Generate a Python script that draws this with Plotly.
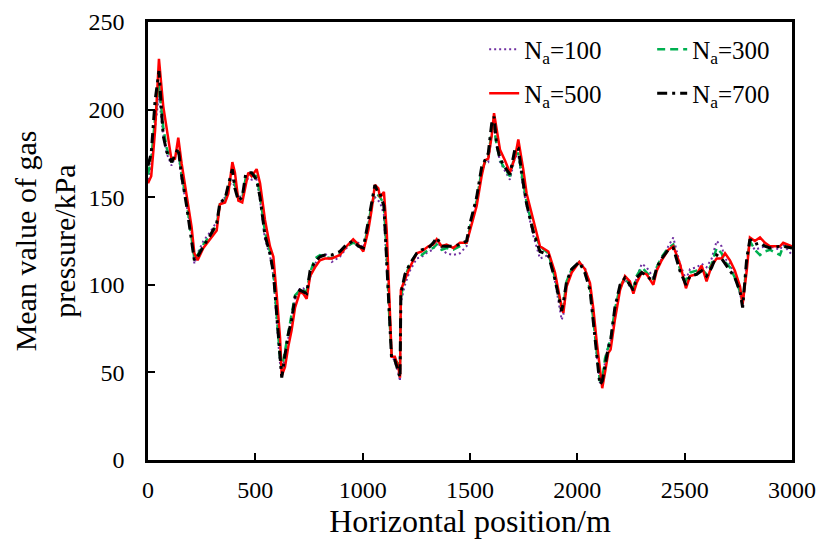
import plotly.graph_objects as go

x_pos = [0, 15, 33, 51, 71, 87, 110, 126, 141, 157, 180, 203, 216, 231, 258, 289, 320, 335, 359, 374,
         393, 405, 421, 439, 455, 467, 483, 506, 522, 545, 568, 584, 599, 615, 623, 638, 654, 669, 685, 708,
         723, 739, 755, 778, 801, 824, 856, 894, 925, 956, 980, 1003, 1026, 1042, 1057, 1073, 1081, 1099, 1112, 1124,
         1135, 1150, 1166, 1174, 1178, 1197, 1220, 1252, 1275, 1306, 1329, 1345, 1368, 1391, 1422, 1453, 1484, 1500, 1531, 1554,
         1570, 1585, 1601, 1612, 1624, 1640, 1663, 1686, 1710, 1725, 1748, 1764, 1795, 1826, 1865, 1896, 1927, 1935, 1950, 1974,
         2009, 2035, 2059, 2074, 2090, 2105, 2116, 2129, 2144, 2155, 2175, 2199, 2222, 2245, 2261, 2276, 2300, 2323, 2354, 2370,
         2393, 2424, 2447, 2478, 2506, 2525, 2556, 2579, 2602, 2626, 2649, 2672, 2688, 2711, 2734, 2758, 2770, 2789, 2804, 2827,
         2851, 2874, 2897, 2944, 2959, 3000]

p_na100 = [160, 168, 190, 208, 185, 175, 168, 173, 175, 160, 145, 130, 112, 118, 125, 130, 136, 146, 150, 155,
           160, 155, 150, 151, 158, 161, 160, 160, 148, 126, 117, 105, 80, 55, 50, 58, 70, 80, 92, 98,
           98, 96, 104, 112, 116, 118, 113, 116, 121, 125, 124, 121, 133, 145, 150, 148, 147, 140, 110, 80,
           60, 56, 50, 45, 90, 100, 108, 115, 116, 119, 120, 126, 120, 118, 117, 118, 122, 132, 148, 164,
           170, 170, 186, 190, 180, 170, 165, 160, 173, 174, 155, 145, 128, 115, 117, 102, 80, 83, 100, 108,
           113, 110, 100, 80, 60, 44, 45, 56, 66, 68, 85, 98, 103, 99, 96, 104, 112, 110, 104, 109,
           115, 122, 127, 112, 103, 109, 110, 112, 110, 115, 125, 122, 115, 112, 105, 95, 88, 113, 124, 120,
           121, 122, 122, 120, 123, 117]

p_na300 = [163, 172, 195, 215, 190, 178, 170, 173, 177, 163, 147, 127, 115, 117, 123, 128, 134, 146, 148, 155,
           165, 157, 149, 149, 161, 163, 163, 162, 151, 130, 119, 108, 84, 58, 52, 62, 73, 82, 94, 97,
           97, 96, 107, 115, 117, 116, 115, 118, 122, 124, 123, 120, 134, 146, 152, 151, 150, 146, 117, 82,
           60, 57, 55, 53, 93, 104, 112, 118, 117, 120, 121, 123, 120, 121, 120, 122, 124, 133, 148, 165,
           170, 173, 188, 190, 180, 171, 166, 162, 175, 175, 158, 147, 131, 122, 118, 104, 86, 88, 102, 109,
           113, 107, 98, 82, 62, 45, 46, 58, 65, 69, 86, 99, 104, 100, 97, 105, 110, 107, 103, 110,
           116, 121, 123, 109, 102, 107, 108, 109, 106, 112, 121, 118, 113, 110, 104, 96, 90, 112, 125, 120,
           117, 119, 120, 117, 122, 121]

p_na500 = [158, 162, 188, 229, 202, 188, 171, 172, 184, 169, 152, 133, 118, 114, 121, 126, 131, 146, 147, 152,
           170, 164, 148, 147, 158, 164, 162, 166, 158, 137, 122, 116, 95, 70, 48, 53, 65, 74, 87, 96,
           95, 92, 105, 110, 114, 115, 115, 117, 122, 126, 123, 119, 131, 143, 157, 155, 150, 153, 131, 97,
           59, 59, 53, 47, 97, 103, 110, 118, 119, 122, 123, 126, 122, 123, 121, 124, 124, 131, 145, 162,
           171, 172, 185, 198, 188, 177, 171, 164, 173, 183, 166, 152, 137, 122, 119, 107, 87, 84, 99, 107,
           113, 109, 101, 87, 68, 50, 41, 50, 61, 63, 80, 97, 105, 102, 95, 101, 107, 106, 100, 108,
           114, 120, 122, 112, 98, 105, 106, 111, 102, 111, 115, 115, 118, 114, 108, 99, 89, 108, 127, 125,
           127, 124, 122, 122, 124, 122]

p_na700 = [168, 175, 205, 222, 185, 176, 170, 174, 178, 162, 145, 125, 114, 116, 122, 128, 135, 147, 149, 157,
           166, 155, 148, 150, 163, 164, 164, 160, 150, 128, 118, 107, 82, 55, 47, 60, 72, 80, 93, 97,
           96, 95, 108, 113, 116, 117, 117, 119, 123, 125, 122, 121, 136, 148, 157, 152, 152, 145, 115, 80,
           57, 57, 50, 47, 95, 106, 112, 118, 120, 121, 124, 127, 122, 122, 122, 123, 125, 135, 150, 167,
           171, 175, 192, 196, 180, 172, 167, 163, 178, 178, 158, 146, 130, 119, 117, 103, 85, 90, 102, 109,
           113, 107, 97, 80, 60, 43, 45, 55, 64, 68, 87, 100, 104, 100, 97, 104, 107, 105, 102, 110,
           115, 120, 121, 108, 100, 105, 106, 108, 105, 110, 117, 115, 112, 108, 104, 96, 87, 115, 126, 123,
           124, 122, 121, 122, 122, 121]

series_names = ["N<sub>a</sub>=100", "N<sub>a</sub>=300", "N<sub>a</sub>=500", "N<sub>a</sub>=700"]
x_ticks = [0, 500, 1000, 1500, 2000, 2500, 3000]
y_ticks = [0, 50, 100, 150, 200, 250]

FONT = "Liberation Serif, Times New Roman, serif"

fig = go.Figure()
fig.add_trace(go.Scatter(x=x_pos, y=p_na100, mode="lines", name=series_names[0], legend="legend",
                         line=dict(color="#7030A0", width=2, dash="2px,3px")))
fig.add_trace(go.Scatter(x=x_pos, y=p_na300, mode="lines", name=series_names[1], legend="legend",
                         line=dict(color="#00B050", width=2.5, dash="8px,5px")))
fig.add_trace(go.Scatter(x=x_pos, y=p_na500, mode="lines", name=series_names[2], legend="legend2",
                         line=dict(color="#FF0000", width=2.5)))
fig.add_trace(go.Scatter(x=x_pos, y=p_na700, mode="lines", name=series_names[3], legend="legend2",
                         line=dict(color="#000000", width=3, dash="10px,5px,3px,5px")))

axis_common = dict(showline=True, linecolor="black", linewidth=2.5, mirror=True,
                   ticks="inside", ticklen=7, tickwidth=2, tickcolor="black",
                   showgrid=False, zeroline=False,
                   tickfont=dict(family=FONT, size=24, color="black"))

fig.update_xaxes(range=[0, 3000], tickvals=x_ticks, ticktext=[str(v) for v in x_ticks],
                 ticklabelstandoff=6,
                 title=dict(text="Horizontal position/m", font=dict(family=FONT, size=32, color="black"), standoff=6),
                 **axis_common)
fig.update_yaxes(range=[0, 250], tickvals=y_ticks, ticktext=[str(v) for v in y_ticks],
                 ticklabelstandoff=16,
                 title=dict(text="Mean value of gas<br>pressure/kPa", font=dict(family=FONT, size=30, color="black"), standoff=4),
                 **axis_common)

leg_common = dict(orientation="h", xanchor="left", yanchor="middle", bgcolor="rgba(0,0,0,0)",
                  font=dict(family=FONT, size=25, color="black"), entrywidth=123, entrywidthmode="pixels",
                  itemwidth=30, traceorder="normal")

fig.update_layout(
    width=828, height=553,
    margin=dict(l=148, r=36, t=22, b=93, autoexpand=False),
    paper_bgcolor="white", plot_bgcolor="white",
    showlegend=True,
    legend=dict(x=0.522, y=0.937, **leg_common),
    legend2=dict(x=0.522, y=0.837, **leg_common),
)

fig.write_html("out.html")
